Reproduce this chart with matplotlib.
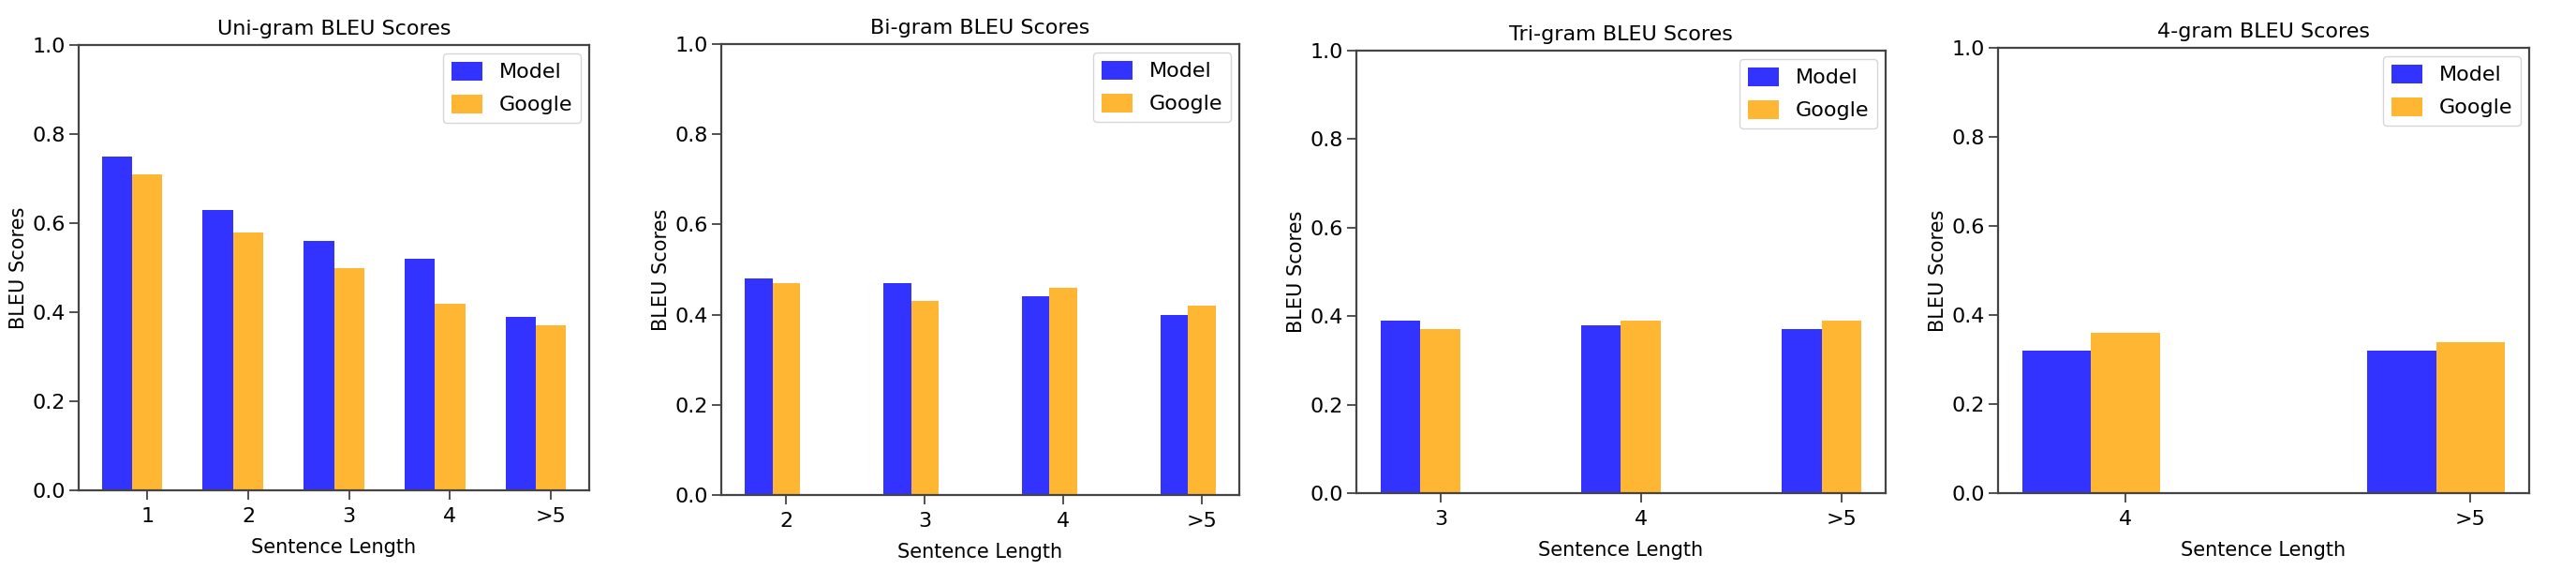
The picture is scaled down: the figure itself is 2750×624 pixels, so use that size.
import matplotlib
matplotlib.use("Agg")
import matplotlib.pyplot as plt
import numpy as np

# ---- data ----
titles = ["Uni-gram BLEU Scores", "Bi-gram BLEU Scores", "Tri-gram BLEU Scores", "4-gram BLEU Scores"]
uni_labels = ["1", "2", "3", "4", ">5"]
uni_model = [0.75, 0.63, 0.56, 0.52, 0.39]
uni_google = [0.71, 0.58, 0.50, 0.42, 0.37]
bi_labels = ["2", "3", "4", ">5"]
bi_model = [0.48, 0.47, 0.44, 0.40]
bi_google = [0.47, 0.43, 0.46, 0.42]
tri_labels = ["3", "4", ">5"]
tri_model = [0.39, 0.38, 0.37]
tri_google = [0.37, 0.39, 0.39]
four_labels = ["4", ">5"]
four_model = [0.32, 0.32]
four_google = [0.36, 0.34]

panels = [
    (uni_labels, uni_model, uni_google, 0.3),
    (bi_labels, bi_model, bi_google, 0.2),
    (tri_labels, tri_model, tri_google, 0.2),
    (four_labels, four_model, four_google, 0.2),
]

plt.rcParams["font.family"] = ["DejaVu Sans"]

W, H = 2750, 624
fig = plt.figure(figsize=(W / 100, H / 100), dpi=100)

# axes pixel boxes: left, right, top, bottom
boxes = [(84, 629, 48, 523), (770, 1323, 47, 528), (1448, 2013, 54, 526), (2133, 2700, 51, 526)]

FS = 16
for (labels, model, google, width), title, (l, r, t, b) in zip(panels, titles, boxes):
    ax = fig.add_axes([l / W, 1 - b / H, (r - l) / W, (b - t) / H])
    idx = np.arange(len(labels))
    ax.bar(idx, model, width, color="b", alpha=0.8, label="Model")
    ax.bar(idx + width, google, width, color="orange", alpha=0.8, label="Google")
    ax.set_xticks(idx + width)
    ax.set_xticklabels(labels)
    ax.set_ylim(0, 1.0)
    ax.set_yticks(np.arange(0, 1.01, 0.2))
    ax.set_yticklabels([f"{v:.1f}" for v in np.arange(0, 1.01, 0.2)])
    ax.set_title(title, fontsize=FS, pad=8)
    ax.set_xlabel("Sentence Length", fontsize=FS - 1, labelpad=9)
    ax.set_ylabel("BLEU Scores", fontsize=FS - 1, labelpad=3)
    ax.tick_params(labelsize=FS, length=7, width=1.2, color="#333333")
    ax.tick_params(axis="x", pad=6)
    ax.tick_params(axis="y", pad=3)
    for s in ax.spines.values():
        s.set_linewidth(1.6)
        s.set_color("#444444")
    ax.legend(loc="upper right", fontsize=FS, handlelength=1.5, handleheight=1.0,
              borderaxespad=0.4, labelspacing=0.6)

fig.savefig("out.png", dpi=100)
